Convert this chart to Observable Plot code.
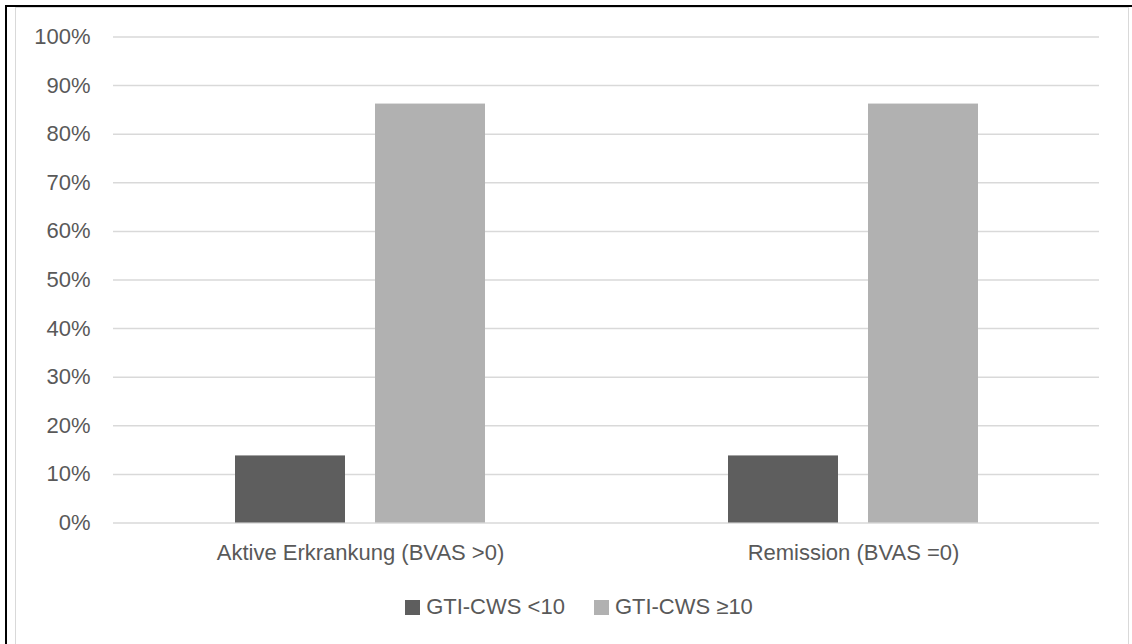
<!DOCTYPE html>
<html>
<head>
<meta charset="utf-8">
<script src="https://cdn.jsdelivr.net/npm/d3@7"></script>
<script src="https://cdn.jsdelivr.net/npm/@observablehq/plot@0.6"></script>
<style>
  html, body { margin: 0; padding: 0; background: #fff; }
  body { width: 1132px; height: 644px; position: relative; overflow: hidden;
         font-family: "Liberation Sans", Arial, sans-serif; }
  #edge { position: absolute; left: 5px; top: 5px; width: 1127px; height: 639px;
          border-top: 2px solid #000; border-left: 2px solid #000; box-sizing: border-box; }
  #frame { position: absolute; left: 15px; top: 7px; width: 1114px; height: 640px;
           border: 1.5px solid #d9d9d9; box-sizing: border-box; }
  #chart { position: absolute; left: 0; top: 0; }
  #legend { position: absolute; top: 594px; left: 0; width: 1158px; display: flex;
            justify-content: center; gap: 29px; font-size: 22px; color: #595959; }
  #legend .item { display: flex; align-items: center; gap: 6px; }
  #legend .sw { width: 15px; height: 15px; display: inline-block; }
</style>
</head>
<body>
<div id="edge"></div>
<div id="frame"></div>
<div id="chart"></div>
<div id="legend"></div>
<script>
// Share of patients by GTI-CWS group within each disease state
const categories = ["Aktive Erkrankung (BVAS >0)", "Remission (BVAS =0)"];
const series = ["GTI-CWS <10", "GTI-CWS ≥10"];
const below10 = [13.8, 13.8];
const atLeast10 = [86.2, 86.2];
const yTicks = [0, 10, 20, 30, 40, 50, 60, 70, 80, 90, 100];
const colors = ["#5e5e5e", "#b1b1b1"];

const lowRows = categories.map((c, i) => ({category: c, series: series[0], value: below10[i]}));
const highRows = categories.map((c, i) => ({category: c, series: series[1], value: atLeast10[i]}));

// each category band holds two bars with a small gap between them
const barGap = 140;

const chart = Plot.plot({
  width: 1132,
  height: 580,
  marginLeft: 113,
  marginRight: 33,
  marginTop: 36.5,
  marginBottom: 57.5,
  style: {fontFamily: "'Liberation Sans', Arial, sans-serif", fontSize: "22px", color: "#595959", background: "transparent"},
  x: {domain: categories, paddingInner: 0.493, paddingOuter: 0.2465, label: null,
      tickSize: 0, tickPadding: 21},
  y: {domain: [0, 100], ticks: yTicks, tickFormat: d => d + "%", label: null,
      tickSize: 0, tickPadding: 23},
  color: {domain: series, range: colors},
  marks: [
    Plot.gridY(yTicks, {stroke: "#d9d9d9", strokeOpacity: 1, strokeWidth: 1.5}),
    Plot.barY(lowRows, {x: "category", y: "value", fill: "series", insetRight: barGap}),
    Plot.barY(highRows, {x: "category", y: "value", fill: "series", insetLeft: barGap})
  ]
});
document.getElementById("chart").appendChild(chart);

const legend = document.getElementById("legend");
series.forEach((s, i) => {
  const item = document.createElement("div");
  item.className = "item";
  const sw = document.createElement("span");
  sw.className = "sw";
  sw.style.background = colors[i];
  const label = document.createElement("span");
  label.textContent = s;
  item.append(sw, label);
  legend.appendChild(item);
});
</script>
</body>
</html>
